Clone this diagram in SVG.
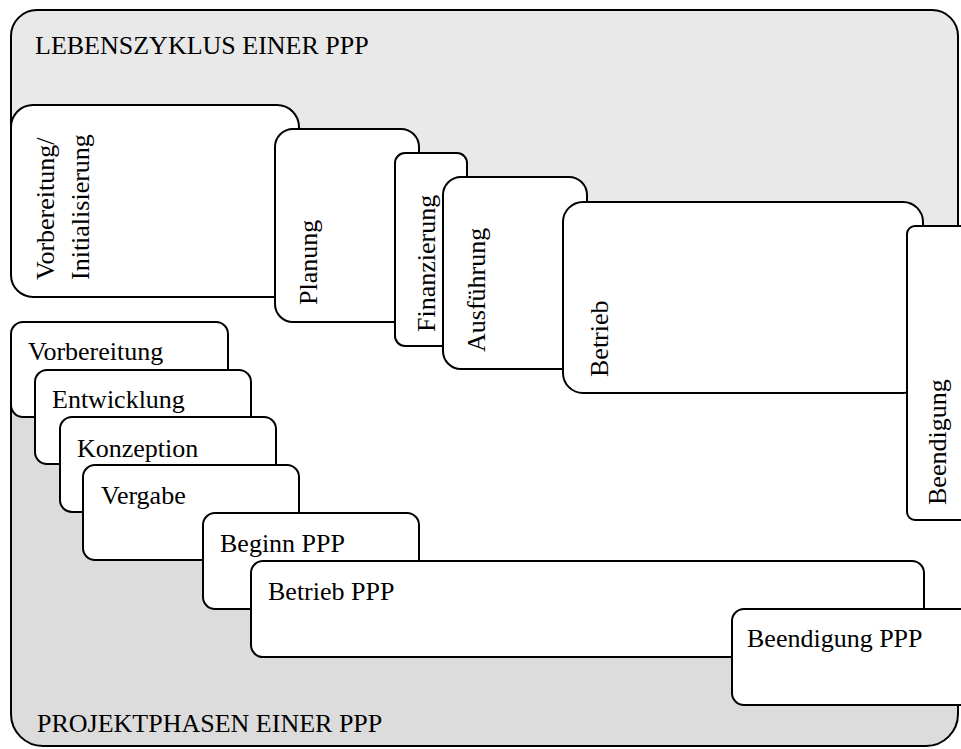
<svg xmlns="http://www.w3.org/2000/svg" width="961" height="749" viewBox="0 0 961 749">
  <style>
    .box { fill: #ffffff; stroke: #000000; stroke-width: 2; }
    .bg { stroke: #000000; stroke-width: 2; }
    .upper { fill: #e9e9e9; }
    .lower { fill: #dcdcdc; }
    text { font-family: "Liberation Serif", "Times New Roman", serif; font-size: 26px; fill: #000000; }
  </style>
  <rect width="961" height="749" fill="#ffffff"/>

  <!-- background areas: life cycle (top) and project phases (bottom) -->
  <g id="backgrounds">
    <path class="bg upper" d="M 11,250 V 36 A 26 26 0 0 1 37,10 H 932 A 26 26 0 0 1 958,36 V 300 H 290 V 250 Z"/>
    <path class="bg lower" d="M 11,380 V 714 A 32 32 0 0 0 43,746 H 926 A 32 32 0 0 0 958,714 V 680 H 800 V 630 H 320 V 580 H 250 V 490 H 200 V 380 Z"/>
    <text x="35" y="54">LEBENSZYKLUS EINER PPP</text>
    <text x="37" y="732">PROJEKTPHASEN EINER PPP</text>
  </g>

  <!-- life cycle stages -->
  <g id="lc-vorbereitung">
    <rect class="box" x="11" y="105" width="288" height="192" rx="22"/>
    <text transform="translate(54,280) rotate(-90)">Vorbereitung/</text>
    <text transform="translate(89,280) rotate(-90)">Initialisierung</text>
  </g>
  <g id="lc-planung">
    <rect class="box" x="275" y="129" width="144" height="193" rx="18"/>
    <text transform="translate(317,305) rotate(-90)">Planung</text>
  </g>
  <g id="lc-finanzierung">
    <rect class="box" x="395" y="153" width="72" height="193" rx="10"/>
    <text transform="translate(435,332) rotate(-90)">Finanzierung</text>
  </g>
  <g id="lc-ausfuehrung">
    <rect class="box" x="443" y="177" width="144" height="192" rx="18"/>
    <text transform="translate(485,352) rotate(-90)">Ausführung</text>
  </g>
  <g id="lc-betrieb">
    <rect class="box" x="563" y="202" width="360" height="191" rx="20"/>
    <text transform="translate(608,377) rotate(-90)">Betrieb</text>
  </g>
  <g id="lc-beendigung">
    <rect class="box" x="907" y="226" width="70" height="294" rx="8"/>
    <text transform="translate(946,505) rotate(-90)">Beendigung</text>
  </g>

  <!-- project phases -->
  <g id="pp-vorbereitung">
    <rect class="box" x="11" y="322" width="217" height="95" rx="12"/>
    <text x="28" y="360">Vorbereitung</text>
  </g>
  <g id="pp-entwicklung">
    <rect class="box" x="35" y="370" width="216" height="94" rx="12"/>
    <text x="52" y="408">Entwicklung</text>
  </g>
  <g id="pp-konzeption">
    <rect class="box" x="60" y="417" width="216" height="95" rx="12"/>
    <text x="77" y="457">Konzeption</text>
  </g>
  <g id="pp-vergabe">
    <rect class="box" x="83" y="465" width="216" height="95" rx="12"/>
    <text x="101" y="504">Vergabe</text>
  </g>
  <g id="pp-beginn">
    <rect class="box" x="203" y="513" width="216" height="96" rx="12"/>
    <text x="220" y="552">Beginn PPP</text>
  </g>
  <g id="pp-betrieb">
    <rect class="box" x="251" y="561" width="673" height="96" rx="12"/>
    <text x="268" y="600">Betrieb PPP</text>
  </g>
  <g id="pp-beendigung">
    <rect class="box" x="732" y="609" width="245" height="96" rx="12"/>
    <text x="747" y="647">Beendigung PPP</text>
  </g>

  <g id="connectors"/>
</svg>
